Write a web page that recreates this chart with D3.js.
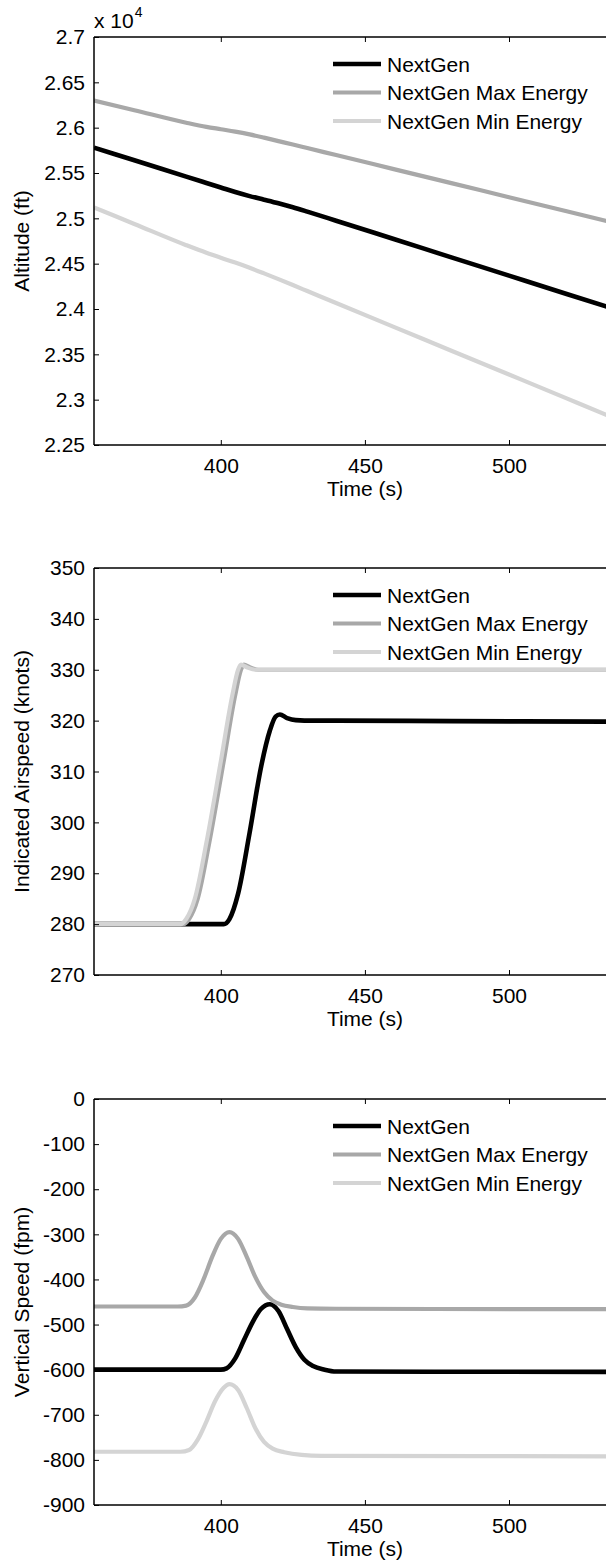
<!DOCTYPE html>
<html><head><meta charset="utf-8">
<script src="https://cdn.jsdelivr.net/npm/d3@7"></script>
<style>body{margin:0;background:#fff}svg{display:block}</style>
</head><body>
<svg id="chart" width="606" height="1565"></svg>
<script>
// ---------- data ----------
const seriesNames = ["NextGen", "NextGen Max Energy", "NextGen Min Energy"];
const timeTicks = [400, 450, 500];
const timeDomain = [356, 534];

// Altitude (ft)
const altTime      = [356, 370, 388, 395, 400, 405, 410, 415, 420, 425, 430, 440, 460, 480, 500, 520, 534];
const altNextGen   = [25780, 25640, 25460, 25390, 25340, 25290, 25245, 25206, 25166, 25122, 25074, 24974, 24772, 24570, 24368, 24166, 24025];
const altMaxEnergy = [26300, 26193, 26055, 26009, 25983, 25957, 25926, 25890, 25852, 25814, 25775, 25698, 25543, 25388, 25233, 25078, 24970];
const altMinEnergy = [25120, 24938, 24704, 24620, 24565, 24512, 24455, 24393, 24329, 24264, 24198, 24066, 23803, 23540, 23277, 23014, 22830];
const altTicks = [22500, 23000, 23500, 24000, 24500, 25000, 25500, 26000, 26500, 27000];
const altTickLabels = ["2.25", "2.3", "2.35", "2.4", "2.45", "2.5", "2.55", "2.6", "2.65", "2.7"];

// Indicated airspeed (knots)
const iasNextGenT   = [356, 380, 401, 403, 406, 410, 414, 417, 419, 420.5, 423, 426, 432, 440, 480, 534];
const iasNextGenV   = [280, 280, 280, 281, 286, 298, 311, 318, 320.8, 321.2, 320.5, 320.1, 320, 320, 319.9, 319.8];
const iasMaxEnergyT = [356, 380, 387, 389, 392, 396, 401, 405, 407, 408, 410, 413, 420, 534];
const iasMaxEnergyV = [280, 280, 280, 281, 285, 296, 312, 325, 330, 331, 330.5, 330, 330, 330];
const iasMinEnergyT = [356, 380, 386, 388, 391, 395, 400, 404, 406, 407, 409, 412, 420, 534];
const iasMinEnergyV = [280, 280, 280, 281, 285, 296, 312, 325, 330, 331, 330.5, 330, 330, 330];
const iasTicks = [270, 280, 290, 300, 310, 320, 330, 340, 350];

// Vertical speed (fpm)
const vsNextGenT   = [356, 400, 402, 405, 408, 411, 414, 417, 420, 423, 426, 429, 432, 436, 440, 534];
const vsNextGenV   = [-600, -600, -597, -575, -535, -495, -465, -455, -470, -510, -550, -578, -592, -600, -604, -605];
const vsMaxEnergyT = [356, 385, 388, 391, 394, 397, 400, 403, 406, 409, 412, 415, 418, 421, 425, 430, 440, 534];
const vsMaxEnergyV = [-460, -460, -458, -440, -400, -350, -310, -295, -310, -350, -395, -428, -447, -456, -461, -464, -465, -466];
const vsMinEnergyT = [356, 386, 389, 392, 395, 398, 401, 403, 406, 409, 412, 415, 418, 422, 428, 435, 534];
const vsMinEnergyV = [-782, -782, -778, -755, -715, -670, -640, -632, -645, -685, -730, -760, -775, -783, -789, -791, -792];
const vsTicks = [-900, -800, -700, -600, -500, -400, -300, -200, -100, 0];

// ---------- styles ----------
const colors = ["#000000", "#a8a8a8", "#d4d4d4"];
const lineWidths = [4.6, 4.2, 4.2];
const FONT = "'Liberation Sans', Arial, sans-serif";
const FS = 21;

const svg = d3.select("#chart");
const left = 94, right = 607;

function panel(cfg) {
  const x = d3.scaleLinear().domain(timeDomain).range([left, right]);
  const y = d3.scaleLinear().domain(cfg.yDomain).range([cfg.bottom, cfg.top]);
  const g = svg.append("g");
  const clipId = "clip" + cfg.id;
  g.append("clipPath").attr("id", clipId).append("rect")
    .attr("x", left).attr("y", cfg.top).attr("width", right - left).attr("height", cfg.bottom - cfg.top);

  // lines
  const line = d3.line().x(d => x(d[0])).y(d => y(d[1])).curve(d3.curveMonotoneX);
  cfg.series.forEach((s, i) => {
    const pts = s.t.map((t, k) => [t, s.v[k]]);
    g.append("path").attr("d", line(pts)).attr("fill", "none")
      .attr("stroke", colors[i]).attr("stroke-width", lineWidths[i])
      .attr("clip-path", `url(#${clipId})`);
  });

  // axes
  const tickLen = 5;
  const yAxis = d3.axisLeft(y).tickValues(cfg.yTicks).tickSizeInner(-tickLen).tickSizeOuter(0)
    .tickPadding(9).tickFormat(cfg.yFormat);
  const ya = g.append("g").attr("transform", `translate(${left},0)`).call(yAxis);
  const xAxisB = d3.axisBottom(x).tickValues(timeTicks).tickSizeInner(-tickLen).tickSizeOuter(0)
    .tickPadding(13).tickFormat(d3.format("d"));
  const xa = g.append("g").attr("transform", `translate(0,${cfg.bottom})`).call(xAxisB);
  const xAxisT = d3.axisTop(x).tickValues(timeTicks).tickSizeInner(-tickLen).tickSizeOuter(0).tickFormat("");
  const xt = g.append("g").attr("transform", `translate(0,${cfg.top})`).call(xAxisT);
  [ya, xa, xt].forEach(a => {
    a.selectAll("path.domain").attr("stroke", "#000").attr("stroke-width", 1.5);
    a.selectAll(".tick line").attr("stroke", "#000").attr("stroke-width", 1);
    a.selectAll("text").attr("font-family", FONT).attr("font-size", FS).attr("fill", "#000");
  });
  ya.select("path.domain").attr("d", `M0,${cfg.top}V${cfg.bottom}`);
  xa.select("path.domain").attr("d", `M${left},0H${right}`);
  xt.select("path.domain").attr("d", `M${left},0H${right}`);

  // x title
  g.append("text").attr("x", 365).attr("y", cfg.bottom + 51)
    .attr("text-anchor", "middle").attr("font-family", FONT).attr("font-size", FS)
    .text("Time (s)");
  // y title
  g.append("text").attr("transform", `translate(${29},${(cfg.top + cfg.bottom) / 2}) rotate(-90)`)
    .attr("text-anchor", "middle").attr("font-family", FONT).attr("font-size", FS)
    .text(cfg.yLabel);

  // legend
  seriesNames.forEach((n, i) => {
    const ly = cfg.top + 27 + i * 28.5;
    g.append("line").attr("x1", 333).attr("x2", 381).attr("y1", ly).attr("y2", ly)
      .attr("stroke", colors[i]).attr("stroke-width", lineWidths[i]);
    g.append("text").attr("x", 387).attr("y", ly).attr("dy", "0.36em")
      .attr("font-family", FONT).attr("font-size", FS).text(n);
  });

  if (cfg.exponent) {
    const t = g.append("text").attr("x", 94).attr("y", 28).attr("font-family", FONT).attr("font-size", FS);
    t.append("tspan").text("x 10");
    t.append("tspan").attr("font-size", 14).attr("dy", -11).attr("dx", 1).text("4");
  }
}

panel({
  id: 1, top: 37, bottom: 445, yDomain: [22500, 27000], yTicks: altTicks,
  yFormat: d => altTickLabels[altTicks.indexOf(d)], yLabel: "Altitude (ft)", exponent: true,
  series: [
    { t: altTime, v: altNextGen },
    { t: altTime, v: altMaxEnergy },
    { t: altTime, v: altMinEnergy }
  ]
});
panel({
  id: 2, top: 568, bottom: 975, yDomain: [270, 350], yTicks: iasTicks,
  yFormat: d3.format("d"), yLabel: "Indicated Airspeed (knots)",
  series: [
    { t: iasNextGenT, v: iasNextGenV },
    { t: iasMaxEnergyT, v: iasMaxEnergyV },
    { t: iasMinEnergyT, v: iasMinEnergyV }
  ]
});
panel({
  id: 3, top: 1099, bottom: 1505, yDomain: [-900, 0], yTicks: vsTicks,
  yFormat: d => d3.format("d")(d).replace("−", "-"), yLabel: "Vertical Speed (fpm)",
  series: [
    { t: vsNextGenT, v: vsNextGenV },
    { t: vsMaxEnergyT, v: vsMaxEnergyV },
    { t: vsMinEnergyT, v: vsMinEnergyV }
  ]
});
</script>
</body></html>
